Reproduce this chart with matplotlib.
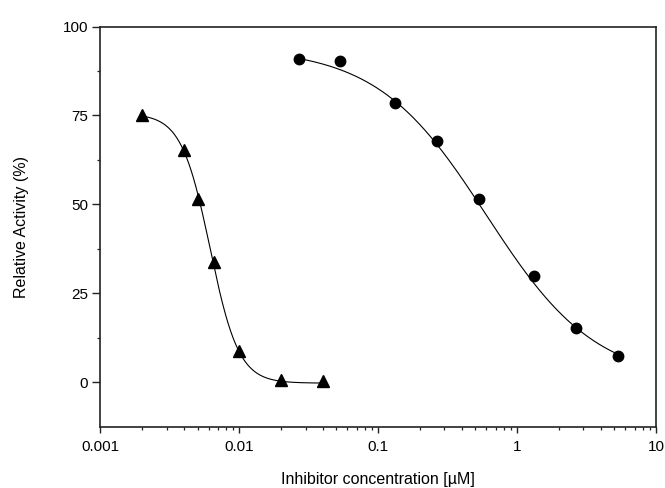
import numpy as np
import matplotlib
matplotlib.use("Agg")
import matplotlib.pyplot as plt
from matplotlib.ticker import LogLocator, FixedLocator, NullFormatter

plt.rcParams['font.family'] = ['Liberation Sans', 'DejaVu Sans']

# Data
tri_conc = [0.002, 0.004, 0.005, 0.0066, 0.01, 0.02, 0.04]
tri_act = [75.0, 65.2, 51.4, 33.9, 8.8, 0.6, 0.4]

circ_conc = [0.0267, 0.0533, 0.133, 0.267, 0.533, 1.33, 2.67, 5.33]
circ_act = [90.8, 90.2, 78.5, 67.7, 51.5, 29.7, 15.3, 7.4]

# Dose-response fit parameters (top, bottom, IC50, Hill)
tri_fit = (75.5, -0.3, 0.00616, 4.2)
circ_fit = (94.0, 0.0, 0.60, 1.1)

x_ticks = [0.001, 0.01, 0.1, 1, 10]
x_ticklabels = ['0.001', '0.01', '0.1', '1', '10']
y_ticks = [0, 25, 50, 75, 100]


def logistic(x, p):
    top, bottom, ic50, h = p
    return bottom + (top - bottom) / (1 + (x / ic50) ** h)


fig = plt.figure(figsize=(6.65, 4.88), dpi=100)
ax = fig.add_axes([0.151, 0.126, 0.8355, 0.8195])

xt = np.logspace(np.log10(tri_conc[0]), np.log10(tri_conc[-1]), 300)
ax.plot(xt, logistic(xt, tri_fit), color='black', lw=0.8)
xc = np.logspace(np.log10(circ_conc[0]), np.log10(circ_conc[-1]), 300)
ax.plot(xc, logistic(xc, circ_fit), color='black', lw=0.8)

ax.plot(tri_conc, tri_act, linestyle='none', marker='^', color='black', markersize=9)
ax.plot(circ_conc, circ_act, linestyle='none', marker='o', color='black', markersize=7.5)

ax.set_xscale('log')
ax.set_xlim(0.001, 10)
ax.set_ylim(-12.5, 100)
ax.set_xticks(x_ticks)
ax.set_xticklabels(x_ticklabels)
ax.xaxis.set_minor_locator(LogLocator(base=10, subs=np.arange(2, 10)))
ax.xaxis.set_minor_formatter(NullFormatter())
ax.set_yticks(y_ticks)
ax.yaxis.set_minor_locator(FixedLocator([12.5, 37.5, 62.5, 87.5]))

for s in ax.spines.values():
    s.set_linewidth(1.2)
    s.set_color('#222222')

ax.tick_params(axis='both', which='major', direction='out', labelsize=11, width=1.0, color='#222222')
ax.tick_params(axis='y', which='major', length=5.5, pad=3.5)
ax.tick_params(axis='x', which='major', length=4, pad=6)
ax.tick_params(axis='both', which='minor', direction='out', length=2.5, width=0.9, color='#222222')

ax.set_xlabel('Inhibitor concentration [µM]', fontsize=11.5, labelpad=13)
ax.set_ylabel('Relative Activity (%)', fontsize=11.5, labelpad=24)

fig.savefig('out.png', dpi=100)
